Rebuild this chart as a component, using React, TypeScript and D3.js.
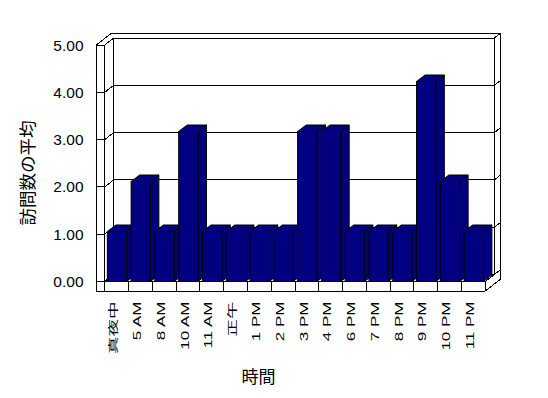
import React from "react";
import * as d3 from "d3";

const categories = ["真夜中", "5 AM", "8 AM", "10 AM", "11 AM", "正午", "1 PM", "2 PM", "3 PM", "4 PM", "6 PM", "7 PM", "8 PM", "9 PM", "10 PM", "11 PM"];
const values = [1, 2, 1, 3, 1, 1, 1, 1, 3, 3, 1, 1, 1, 4, 2, 1];
const yTicks = [0, 1, 2, 3, 4, 5];
const yTickLabels = ["0.00", "1.00", "2.00", "3.00", "4.00", "5.00"];
const yTitle = "訪問数の平均";
const xTitle = "時間";

const W = 548;
const H = 398;
const FONT = "'Liberation Sans', Arial, 'Noto Sans CJK JP', sans-serif";
const CJK = "'Noto Sans CJK JP', 'Noto Sans CJK SC', sans-serif";

export default function App() {
  const x = d3.scaleBand<string>().domain(categories).range([104.7, 485.3]);
  const yAxis = d3.scaleLinear().domain([0, 5]).range([281.5, 45]);
  const yBar = d3.scaleLinear().domain([0, 5]).range([281.5, 31.5]);
  const bw = x.bandwidth();

  const Dx = 9, Dy = -7;
  const Tx = 6.5, Ty = -5;
  const Bx = 8.5, By = -6.5;

  const wallL = 96.3;
  const wallR = 104.7;
  const xEnd = 485.3;
  const floorTop = yAxis(0);
  const floorBot = 291;
  const backL = wallR + Dx;
  const backR = xEnd + Dx;
  const outerR = backR + Tx;
  const topY = yAxis(5);

  const ln = (x1: number, y1: number, x2: number, y2: number, k: string) => (
    <line key={k} x1={x1} y1={y1} x2={x2} y2={y2} stroke="#000" strokeWidth={1} />
  );

  const lines: React.ReactNode[] = [];
  lines.push(ln(wallL, topY, wallL, floorBot, "lw1"));
  lines.push(ln(wallR, topY, wallR, floorBot, "lw2"));
  lines.push(ln(wallL, topY, wallL + Dx + Tx, topY + Dy + Ty, "ld1"));
  lines.push(ln(wallR, topY, backL, topY + Dy, "ld2"));
  lines.push(ln(wallL + Dx + Tx, topY + Dy + Ty, outerR, topY + Dy + Ty, "bt"));
  lines.push(ln(backL, topY + Dy, backL, floorTop + Dy, "bl"));
  lines.push(ln(backR, topY + Dy, backR, floorTop + Dy, "br"));
  lines.push(ln(outerR, topY + Dy + Ty, outerR, floorBot + Dy + Ty, "or"));

  yTicks.forEach((v, i) => {
    const ty = yAxis(v);
    lines.push(ln(wallL, ty, wallR, ty, "tf" + i));
    lines.push(ln(wallR, ty, backL, ty + Dy, "td" + i));
    lines.push(ln(backL, ty + Dy, backR, ty + Dy, "tg" + i));
    lines.push(ln(backR, ty + Dy, outerR, ty + Dy + Ty, "ts" + i));
  });

  lines.push(ln(wallR, floorTop, xEnd, floorTop, "ft"));
  lines.push(ln(wallL, floorBot, xEnd, floorBot, "fb"));
  categories.forEach((c, i) => {
    lines.push(ln(x(c)!, floorTop, x(c)!, floorBot, "fd" + i));
  });
  lines.push(ln(xEnd, floorTop, xEnd, floorBot, "fdEnd"));
  lines.push(ln(xEnd, floorTop, outerR, floorTop + Dy + Ty, "fr1"));
  lines.push(ln(xEnd, floorBot, outerR, floorBot + Dy + Ty, "fr2"));

  const bars = categories.map((c, i) => {
    const x0 = x(c)! + bw * 0.11;
    const x1 = x0 + bw * 0.81;
    const yt = yBar(values[i]);
    const yb = yBar(0);
    const top = [[x0, yt], [x1, yt], [x1 + Bx, yt + By], [x0 + Bx, yt + By]];
    const side = [[x1, yt], [x1 + Bx, yt + By], [x1 + Bx, yb + By], [x1, yb]];
    const pts = (p: number[][]) => p.map((q) => q.join(",")).join(" ");
    return (
      <g key={"bar" + i}>
        <polygon points={pts(side)} fill="#000080" stroke="#000" strokeWidth={1} />
        <polygon points={pts(top)} fill="#000080" stroke="#000" strokeWidth={1} />
        <rect x={x0} y={yt} width={x1 - x0} height={yb - yt} fill="#000080" stroke="#000" strokeWidth={1} />
      </g>
    );
  });

  return (
    <svg
      width={W}
      height={H}
      style={{ position: "absolute", left: 0, top: 0, background: "#fff" }}
      xmlns="http://www.w3.org/2000/svg"
    >
      <rect x={0} y={0} width={W} height={H} fill="#fff" />
      <g shapeRendering="crispEdges">{lines}</g>
      <g>{bars}</g>
      {yTicks.map((v, i) => (
        <text key={"yl" + i} x={83.5} y={yAxis(v)} textAnchor="end" dominantBaseline="central" fontFamily={FONT} fontSize={15.5} fill="#000">
          {yTickLabels[i]}
        </text>
      ))}
      {categories.map((c, i) => (
        <text
          key={"xl" + i}
          transform={`translate(${x(c)! + bw / 2 - 3},301.5) rotate(-90) scale(1,0.6)`}
          textAnchor="end"
          dominantBaseline="central"
          fontFamily={FONT}
          fontSize={/[A-Z0-9]/.test(c) ? 17 : 17.5}
          fill="#000"
        >
          {c}
        </text>
      ))}
      <text transform="translate(26,173) rotate(-90)" textAnchor="middle" dominantBaseline="central" fontFamily={CJK} fontSize={17.5} fill="#000">
        {yTitle}
      </text>
      <text x={258.5} y={375} textAnchor="middle" dominantBaseline="central" fontFamily={CJK} fontSize={17} fill="#000">
        {xTitle}
      </text>
    </svg>
  );
}
